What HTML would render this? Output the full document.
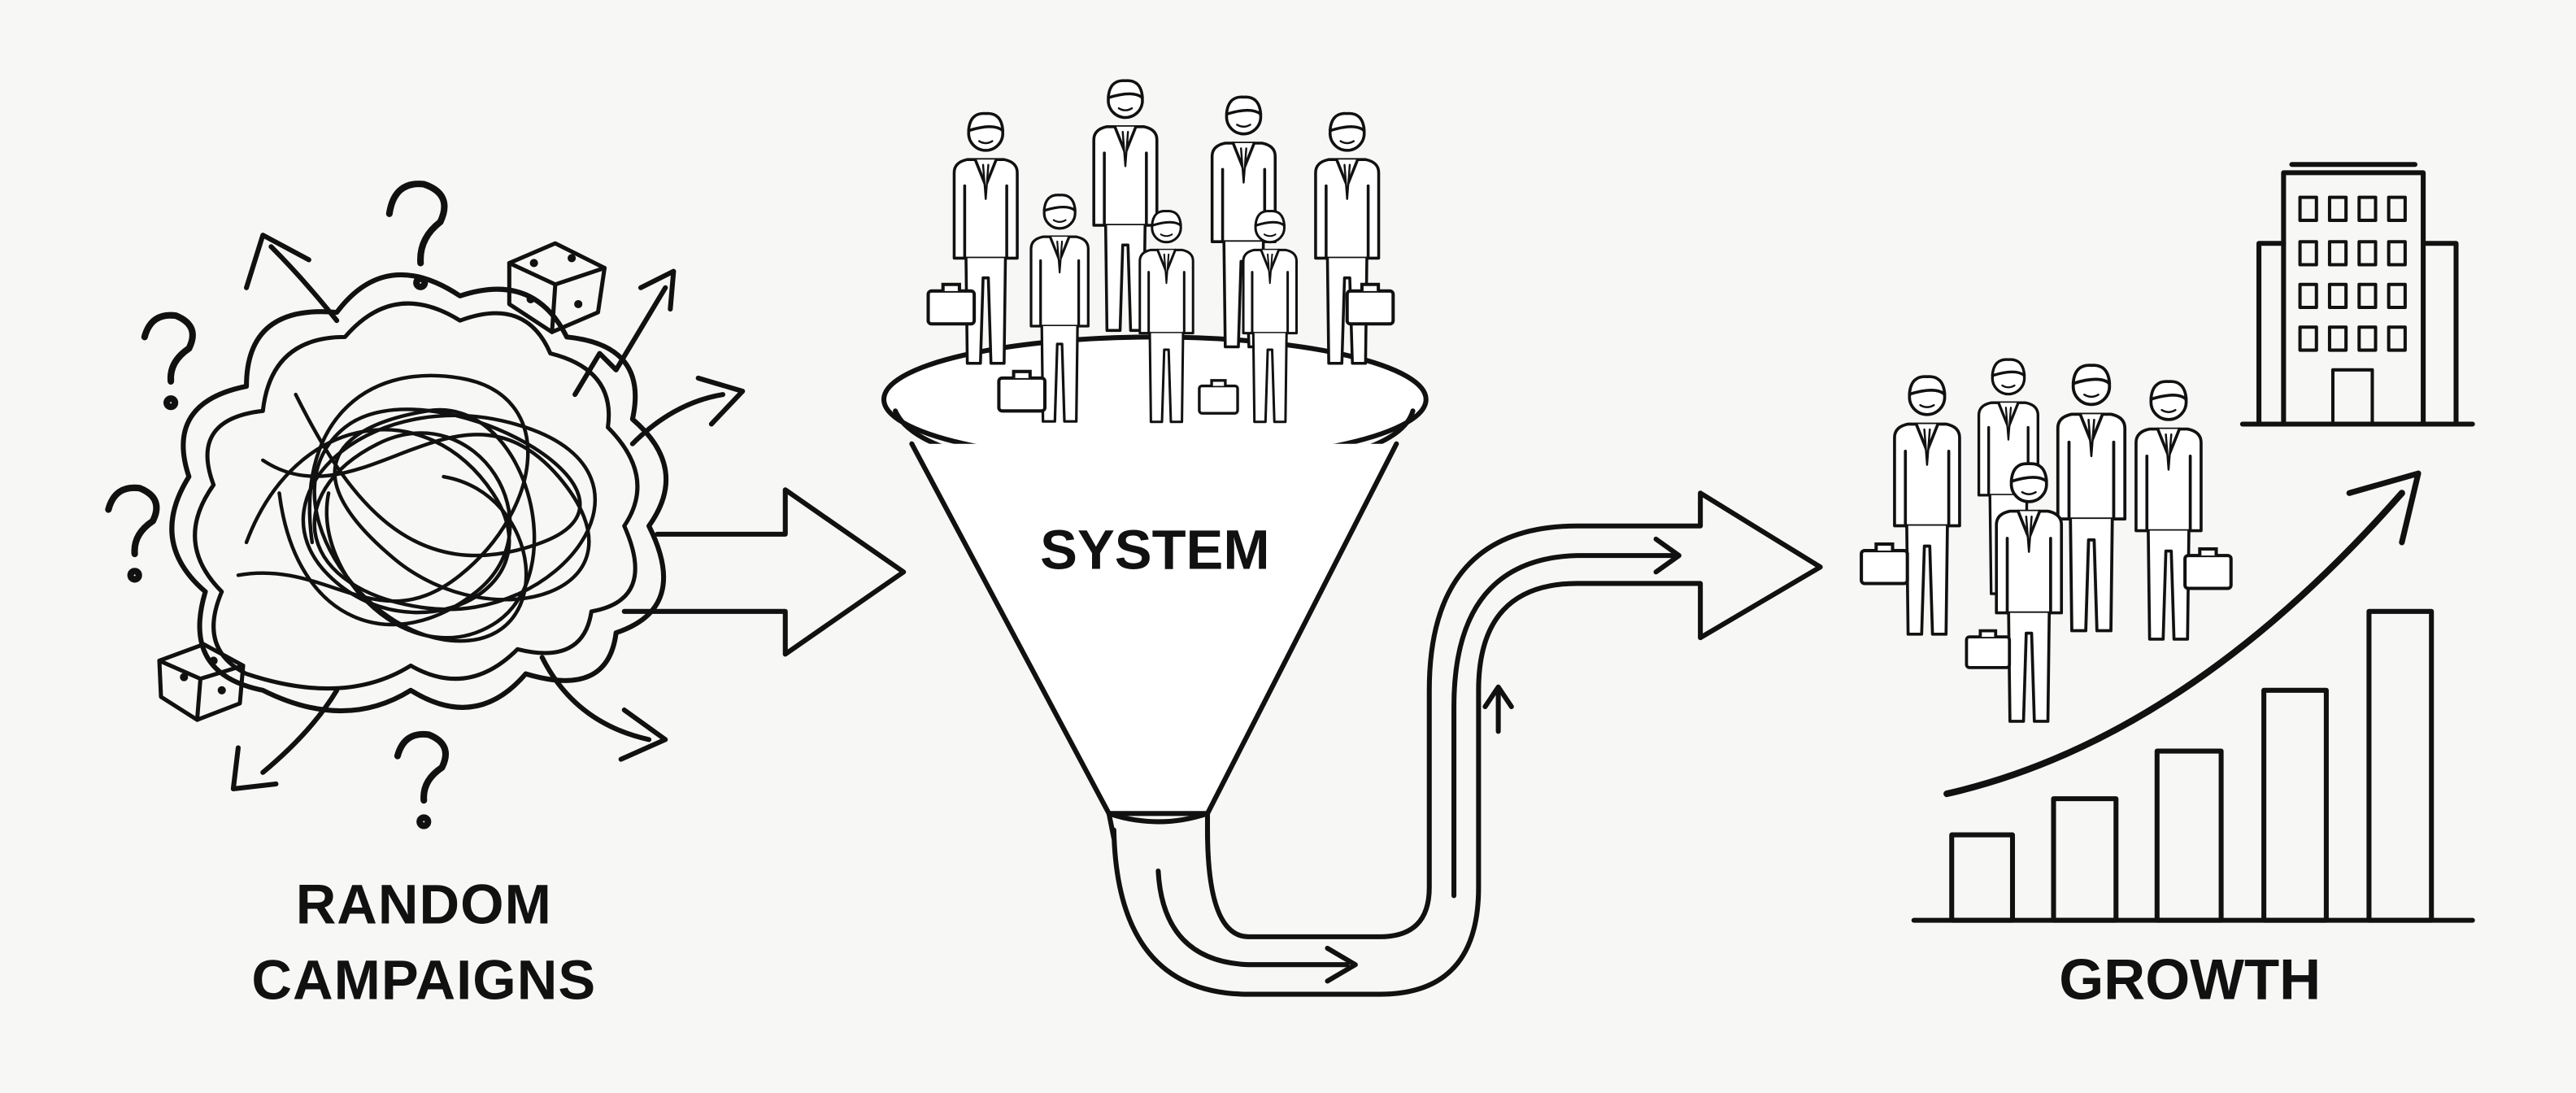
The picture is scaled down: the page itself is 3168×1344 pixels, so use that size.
<!DOCTYPE html>
<html><head><meta charset="utf-8"><style>
html,body{margin:0;padding:0;background:#f7f7f5;}
svg{display:block;}
text{font-family:"Liberation Sans",sans-serif;font-weight:bold;fill:#111;text-anchor:middle;}
</style></head><body>
<svg width="3168" height="1344" viewBox="0 0 1568 665" xmlns="http://www.w3.org/2000/svg">
<rect width="1568" height="665" fill="#f7f7f5"/>
<defs>
<symbol id="p" viewBox="-30 -20 60 200" overflow="visible">
  <g fill="#fff" stroke="#111" stroke-width="2.2" stroke-linejoin="round" stroke-linecap="round">
    <path d="M-24 30 Q-24 22 -14 20 L14 20 Q24 22 24 30 L24 95 L-24 95 Z"/>
    <path d="M-15 95 L-14 175 L-4 175 L-2 110 L2 110 L4 175 L14 175 L15 95"/>
    <path d="M-8 20 L0 40 L8 20"/>
    <path d="M-2 24 L0 50 L2 24" stroke-width="1.5"/>
    <line x1="-16" y1="40" x2="-16" y2="95"/><line x1="16" y1="40" x2="16" y2="95"/>
    <circle cx="0" cy="0" r="13"/>
    <path d="M-13 -2 Q-12 -16 0 -15 Q12 -16 13 -2 Q6 -8 -13 -2Z" fill="#fff"/>
    <path d="M-5 6 Q0 9 5 6" stroke-width="1.5"/>
  </g>
</symbol>
<symbol id="bc" viewBox="0 0 30 25" overflow="visible">
  <g fill="#fff" stroke="#111" stroke-width="2"><rect x="0" y="5" width="28" height="20" rx="2"/><path d="M9 5 V1 H19 V5"/></g>
</symbol>
</defs>
<g fill="none" stroke="#111" stroke-width="3" stroke-linecap="round" stroke-linejoin="round">
<path d="M160 420 Q110 410 125 360 Q90 330 115 290 Q100 245 150 235 Q150 185 205 190 Q235 150 280 180 Q325 165 345 205 Q395 210 385 255 Q420 285 395 320 Q420 370 375 385 Q370 425 320 410 Q290 445 250 420 Q210 445 160 420Z"/>
<path d="M150 410 Q120 395 135 360 Q105 330 130 295 Q115 255 160 250 Q165 205 210 205 Q240 170 280 195 Q320 180 335 215 Q375 225 370 260 Q400 290 380 320 Q400 365 360 372 Q355 405 315 395 Q285 425 250 405 Q210 430 150 410Z" stroke-width="2.5"/>
<g stroke-width="2.2">
<path d="M150 330 C180 250 260 240 300 300 S 250 400 200 350 S 230 230 320 260 S 340 380 260 370 S 170 300 230 270 S 340 320 290 360 S 180 380 170 300"/>
<path d="M160 280 C220 320 280 220 340 290 S 300 390 240 340 S 200 260 260 250 S 350 350 300 380 S 190 350 200 300"/>
<path d="M180 240 C210 300 250 360 330 330 S 260 220 210 260 S 220 390 280 390 S 330 300 270 290"/>
<path d="M145 350 C200 340 230 390 280 350 S 340 240 280 230 S 180 260 190 330"/>
</g>
<path d="M205 195 Q185 170 165 150"/><path d="M150 175 L160 143 L188 158"/>
<path d="M350 240 L365 215 L375 225 L405 175"/><path d="M390 175 L410 165 L408 188"/>
<path d="M385 270 Q410 245 440 240"/><path d="M425 230 L452 238 L433 258"/>
<path d="M330 400 Q350 440 395 450"/><path d="M380 432 L405 450 L378 462"/>
<path d="M205 420 Q190 445 160 470"/><path d="M145 455 L142 480 L168 477"/>
<g stroke-width="4">
<path d="M237 130 Q240 110 258 112 Q276 118 268 135 Q255 145 256 160"/><circle cx="256" cy="172" r="2.5"/>
<path d="M88 205 Q92 190 107 192 Q122 198 115 212 Q103 220 104 232"/><circle cx="104" cy="245" r="2.5"/>
<path d="M66 310 Q70 295 85 297 Q100 303 93 317 Q81 325 82 337"/><circle cx="82" cy="350" r="2.5"/>
<path d="M242 460 Q246 445 261 447 Q276 453 269 467 Q257 475 258 487"/><circle cx="258" cy="500" r="2.5"/>
</g>
<g stroke-width="2.5">
<path d="M310 160 L338 148 L368 163 L364 190 L336 202 L310 185Z"/><path d="M310 160 L338 173 L368 163 M338 173 L336 202"/>
<path d="M97 402 L124 392 L148 405 L146 428 L120 438 L98 424Z"/><path d="M97 402 L122 413 L148 405 M122 413 L120 438"/>
</g>
<g fill="#111" stroke="none">
<circle cx="325" cy="160" r="2.5"/><circle cx="348" cy="157" r="2.5"/><circle cx="323" cy="182" r="2.5"/><circle cx="352" cy="185" r="2.5"/><circle cx="112" cy="412" r="2.5"/><circle cx="135" cy="420" r="2.5"/><circle cx="130" cy="402" r="2.5"/>
</g>
<path d="M400 325 L478 325 L478 298 L550 348 L478 398 L478 372 L380 372"/>
<ellipse cx="703" cy="243" rx="165" ry="38" fill="#fff"/>
<path d="M545 250 Q560 285 703 290 Q850 285 860 250"/>
<path d="M555 270 L675 495 L735 495 L850 270" fill="#fff"/>
<path d="M675 495 Q705 505 735 495 L735 510"/><path d="M675 495 L678 510"/>
<path d="M678 505 Q680 605 760 605 L840 605 Q900 605 900 540 L900 420 Q900 355 960 355 L1035 355 L1035 388 L1108 345 L1035 300 L1035 320 L960 320 Q870 320 870 420 L870 540 Q870 570 840 570 L760 570 Q735 570 735 505"/>
<path d="M705 530 Q708 585 760 587 L820 587"/><path d="M808 577 L825 587 L808 597"/>
<path d="M885 545 L885 430 Q885 340 960 338 L1020 338"/><path d="M1008 328 L1022 338 L1008 348"/>
<path d="M912 420 L912 445"/><path d="M904 430 L912 418 L920 430"/>
<rect x="1390" y="105" width="85" height="153"/><path d="M1395 100 H1470 M1375 148 V258 H1390 M1475 148 H1495 V258 M1375 148 H1390 M1365 258 H1505"/>
<g stroke-width="2">
<rect x="1400" y="120" width="10" height="14"/><rect x="1418" y="120" width="10" height="14"/><rect x="1436" y="120" width="10" height="14"/><rect x="1454" y="120" width="10" height="14"/>
<rect x="1400" y="147" width="10" height="14"/><rect x="1418" y="147" width="10" height="14"/><rect x="1436" y="147" width="10" height="14"/><rect x="1454" y="147" width="10" height="14"/>
<rect x="1400" y="173" width="10" height="14"/><rect x="1418" y="173" width="10" height="14"/><rect x="1436" y="173" width="10" height="14"/><rect x="1454" y="173" width="10" height="14"/>
<rect x="1400" y="199" width="10" height="14"/><rect x="1418" y="199" width="10" height="14"/><rect x="1436" y="199" width="10" height="14"/><rect x="1454" y="199" width="10" height="14"/>
<rect x="1420" y="225" width="24" height="33"/>
</g>
<path d="M1165 560 H1505"/>
<rect x="1188" y="508" width="37" height="52"/><rect x="1250" y="486" width="38" height="74"/><rect x="1313" y="457" width="39" height="103"/><rect x="1378" y="420" width="38" height="140"/><rect x="1442" y="372" width="38" height="188"/>
<path d="M1185 483 Q1330 450 1462 300" stroke-width="4"/><path d="M1430 300 L1472 288 L1462 330" stroke-width="3.5"/>
</g>
<use href="#p" x="570" y="65" width="60" height="160"/>
<use href="#p" x="655" y="45" width="60" height="160"/>
<use href="#p" x="727" y="55" width="60" height="160"/>
<use href="#p" x="790" y="65" width="60" height="160"/>
<use href="#p" x="615" y="115" width="60" height="145"/>
<use href="#p" x="680" y="125" width="60" height="135"/>
<use href="#p" x="743" y="125" width="60" height="135"/>
<use href="#bc" x="565" y="172" width="30" height="25"/><use href="#bc" x="820" y="172" width="30" height="25"/>
<use href="#bc" x="608" y="225" width="30" height="25"/><use href="#bc" x="730" y="230" width="25" height="22"/>
<use href="#p" x="1143" y="225" width="60" height="165"/>
<use href="#p" x="1195" y="215" width="55" height="150"/>
<use href="#p" x="1243" y="218" width="60" height="170"/>
<use href="#p" x="1290" y="228" width="60" height="165"/>
<use href="#p" x="1205" y="278" width="60" height="165"/>
<use href="#bc" x="1133" y="330" width="30" height="25"/><use href="#bc" x="1330" y="333" width="30" height="25"/><use href="#bc" x="1197" y="382" width="28" height="25"/>
<text x="258" y="562" font-size="34" letter-spacing="0.5">RANDOM</text>
<text x="258" y="608" font-size="34" letter-spacing="0.5">CAMPAIGNS</text>
<text x="703" y="346" font-size="34">SYSTEM</text>
<text x="1333" y="608" font-size="35">GROWTH</text>
</svg>
</body></html>
